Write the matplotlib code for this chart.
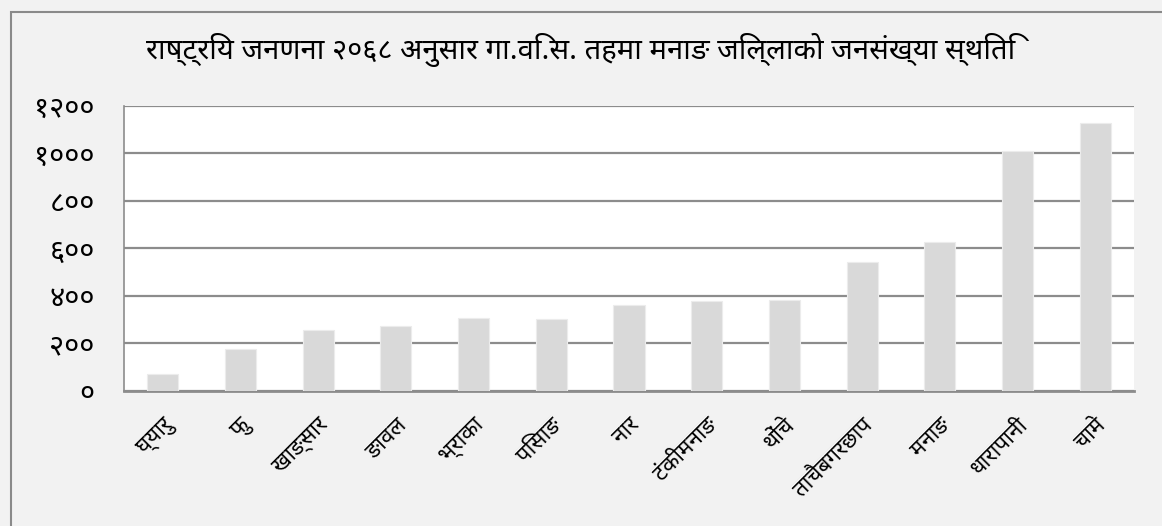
import matplotlib
matplotlib.use('Agg')
import matplotlib.pyplot as plt
from matplotlib.patches import Rectangle
from matplotlib.ticker import FuncFormatter

# DATA
title = 'राष्ट्रिय जनणना २०६८ अनुसार गा.वि.स. तहमा मनाङ जिल्लाको जनसंख्या स्थिति'
vdcs = ['घ्यारु', 'फु', 'खाङ्सार', 'ङावल', 'भ्राका', 'पिसाङ', 'नार',
        'टंकीमनाङ', 'थोंचे', 'ताचैबगरछाप', 'मनाङ', 'धारापानी', 'चामे']
population = [72, 176, 256, 274, 306, 305, 361, 377, 381, 542, 628, 1012, 1129]
y_ticks = [0, 200, 400, 600, 800, 1000, 1200]

plt.rcParams['font.family'] = ['Noto Sans Devanagari', 'DejaVu Sans']

DEVA_DIGITS = str.maketrans('0123456789', '०१२३४५६७८९')


def deva_num(v, pos):
    return str(int(v)).translate(DEVA_DIGITS)


bg = '#f2f2f2'
grid_color = '#8c8c8c'

fig = plt.figure(figsize=(11.62, 5.26), dpi=100, facecolor=bg)
ax = fig.add_axes([0.1067, 0.2567, 0.8692, 0.5418])
ax.set_facecolor('white')

# outer chart frame (cut off on the right and bottom)
fig.patches.append(Rectangle((11 / 1162, -0.2), 2, 1.2 - 12 / 526,
                             transform=fig.transFigure, fill=False,
                             edgecolor='#8a8a8a', linewidth=1.5))

x = range(len(vdcs))
ax.bar(x, population, width=0.4, color='#d9d9d9', edgecolor='#ececec',
       linewidth=0.8, zorder=3)

ax.set_xlim(-0.5, len(vdcs) - 0.5)
ax.set_ylim(0, 1200)
ax.set_yticks(y_ticks)
ax.yaxis.set_major_formatter(FuncFormatter(deva_num))
ax.yaxis.grid(True, color=grid_color, linewidth=1.6, zorder=1)
ax.set_axisbelow(True)

for side in ['top', 'right']:
    ax.spines[side].set_visible(False)
ax.spines['left'].set_color(grid_color)
ax.spines['bottom'].set_color(grid_color)
ax.spines['left'].set_linewidth(1.2)
ax.spines['bottom'].set_linewidth(2)

ax.tick_params(axis='y', length=0, pad=21, labelsize=21)
ax.tick_params(axis='x', length=0, pad=17, labelsize=16)
ax.set_xticks(list(x))
ax.set_xticklabels(vdcs, rotation=45, ha='right', rotation_mode='anchor')

fig.text(0.5, 0.905, title, ha='center', va='center', fontsize=21)

fig.savefig('out.png', dpi=100, facecolor=bg)
